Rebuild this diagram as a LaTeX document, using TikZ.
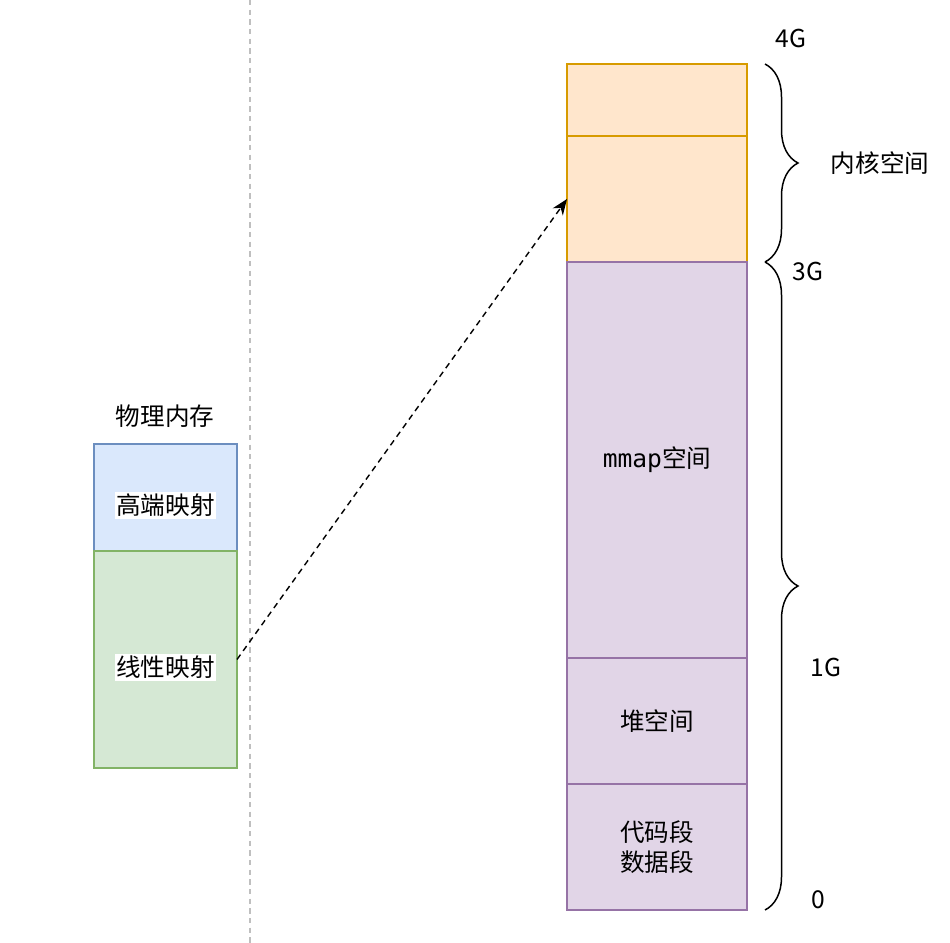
\documentclass[tikz,border=0pt]{standalone}
\usepackage{fontspec}
\setmainfont{Noto Sans CJK SC}
\newfontfamily\mmapfont{DejaVu Sans Mono}
\usetikzlibrary{positioning, arrows.meta, decorations.pathreplacing}
\definecolor{kernfill}{HTML}{FFE6CC}
\definecolor{kerndraw}{HTML}{D79B00}
\definecolor{userfill}{HTML}{E1D5E7}
\definecolor{userdraw}{HTML}{9673A6}
\definecolor{highfill}{HTML}{DAE8FC}
\definecolor{highdraw}{HTML}{6C8EBF}
\definecolor{linfill}{HTML}{D5E8D4}
\definecolor{lindraw}{HTML}{82B366}
\newcommand{\memfont}{\fontsize{14}{17}\selectfont}
\tikzset{
	membox/.style={draw, line width=0.8pt, outer sep=0pt, inner sep=0pt, font=\memfont, align=center},
	kernbox/.style={membox, fill=kernfill, draw=kerndraw, minimum width=3.6cm},
	userbox/.style={membox, fill=userfill, draw=userdraw, minimum width=3.6cm},
	physbox/.style={membox, minimum width=2.86cm},
	memtext/.style={font=\memfont, inner sep=1pt},
	labelbg/.style={memtext, fill=white, yshift=-0.16cm},
	rangebrace/.style={decorate, decoration={brace, amplitude=0.66cm}, line width=0.85pt}
}

\begin{document}
\begin{tikzpicture}[x=0.02cm, y=-0.02cm]
      \useasboundingbox (0,0) rectangle (950,943);
      \draw[gray!50, line width=0.6pt, dash pattern=on 3pt off 2.5pt] (250,0) -- (250,943);

      \node[memtext] (phys) at (165,416) {物理内存};
      \node[physbox, fill=highfill, draw=highdraw, minimum height=2.14cm,
        label={[labelbg]center:高端映射}] (high) at (165.5,497.5) {};
      \node[physbox, fill=linfill, draw=lindraw, minimum height=4.34cm,
        label={[labelbg]center:线性映射}, below=0pt of high] (linear) {};

      \node[kernbox, minimum height=1.44cm] (kern1) at (657,100) {};
      \node[kernbox, minimum height=2.52cm, below=0pt of kern1] (kern2) {};
      \node[userbox, minimum height=7.92cm, below=0pt of kern2] (mmap) {{\mmapfont mmap}空间};
      \node[userbox, minimum height=2.52cm, below=0pt of mmap] (heap) {堆空间};
      \node[userbox, minimum height=2.52cm, below=0pt of heap] (code) {代码段\\数据段};

      \coordinate (kerntop) at (765,64);
      \coordinate (kernbot) at (765,262);
      \coordinate (userbot) at (765,910);
      \draw[rangebrace] (kerntop) -- (kernbot);
      \draw[rangebrace] (kernbot) -- (userbot);

      \node[memtext] (g4) at (791,38) {4G};
      \node[memtext] (g3) at (808,271) {3G};
      \node[memtext] (g1) at (826,667) {1G};
      \node[memtext] (g0) at (818,900) {0};
      \node[memtext] (kernspace) at (880,163) {内核空间};

      \draw[line width=0.8pt, dash pattern=on 3.4pt off 2.6pt, -{Stealth[length=9pt, width=7pt, inset=2.8pt]}]
        (linear.east) -- (kern2.west);
    \end{tikzpicture}
\end{document}
